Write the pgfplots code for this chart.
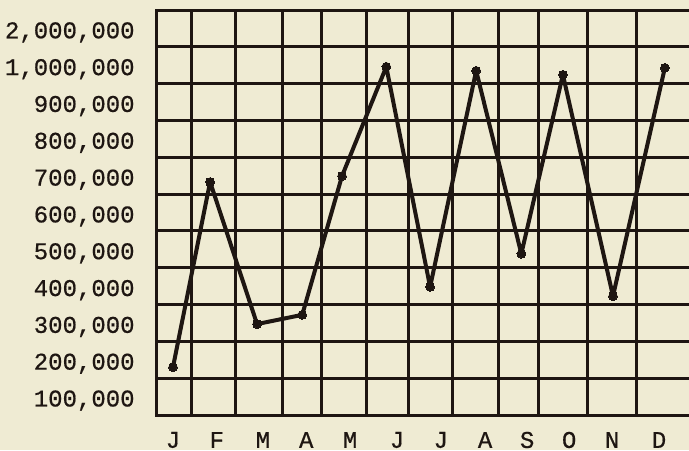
\documentclass[border=0pt]{standalone}
\usepackage{pgfplots}
\pgfplotsset{compat=1.18}
\usepackage{fontspec}
\setmainfont{Liberation Mono}
\setmonofont[FakeBold=0.6]{Liberation Mono}
\usepackage{xcolor}
\definecolor{bg}{RGB}{239,235,211}
\definecolor{ink}{RGB}{30,22,18}
\pagecolor{bg}
\pgfplotstableread{
x y
1.00 180000
1.83 683000
2.88 297000
3.89 322000
4.78 699000
5.77 996000
6.75 398000
7.78 985000
8.79 488000
9.72 974000
10.84 373000
12.00 993000
}\sales
\begin{document}
\begin{tikzpicture}
\begin{axis}[
  scale only axis,
  width=266.5pt, height=202.5pt,
  xmin=0.62, xmax=12.54,
  ymin=50000, ymax=1150000,
  axis line style={draw=none},
  xtick={1,1.98,3.01,3.98,4.96,6.01,6.99,7.98,8.92,9.86,10.82,11.87},
  xticklabels={J,F,M,A,M,J,J,A,S,O,N,D},
  minor xtick={0.62,1.425,2.39,3.46,4.33,5.32,6.26,7.26,8.29,9.17,10.26,11.36},
  ytick={100000,200000,300000,400000,500000,600000,700000,800000,900000,1000000,1100000},
  yticklabels={{100,000},{200,000},{300,000},{400,000},{500,000},{600,000},{700,000},{800,000},{900,000},{1,000,000},{2,000,000}},
  minor ytick={50000,150000,250000,350000,450000,550000,650000,750000,850000,950000,1050000,1150000},
  scaled y ticks=false,
  xmajorgrids=false, ymajorgrids=false,
  xminorgrids=true, yminorgrids=true,
  minor grid style={draw=ink, line width=1.5pt, line cap=rect},
  major tick length=0pt, minor tick length=0pt,
  tick style={draw=none},
  ticklabel style={font=\fontsize{12}{14}\selectfont\ttfamily, text=ink},
  xticklabel style={anchor=center, yshift=-12.5pt},
  yticklabel style={anchor=mid east, inner sep=0pt, xshift=-10.5pt, yshift=-2.3pt},
  clip=false,
]
\addplot[draw=ink, line width=2pt, line join=round, mark=*, mark size=2.2pt, mark options={fill=ink, draw=ink, line width=0pt}] table[x=x, y=y] {\sales};
\coordinate (sw) at (rel axis cs:0,0);
\coordinate (ne) at (rel axis cs:1,1);
\end{axis}
\pgfresetboundingbox
\path[use as bounding box] ([shift={(-78pt,-17.5pt)}]sw) rectangle ([shift={(0pt,5pt)}]ne);
\end{tikzpicture}
\end{document}
